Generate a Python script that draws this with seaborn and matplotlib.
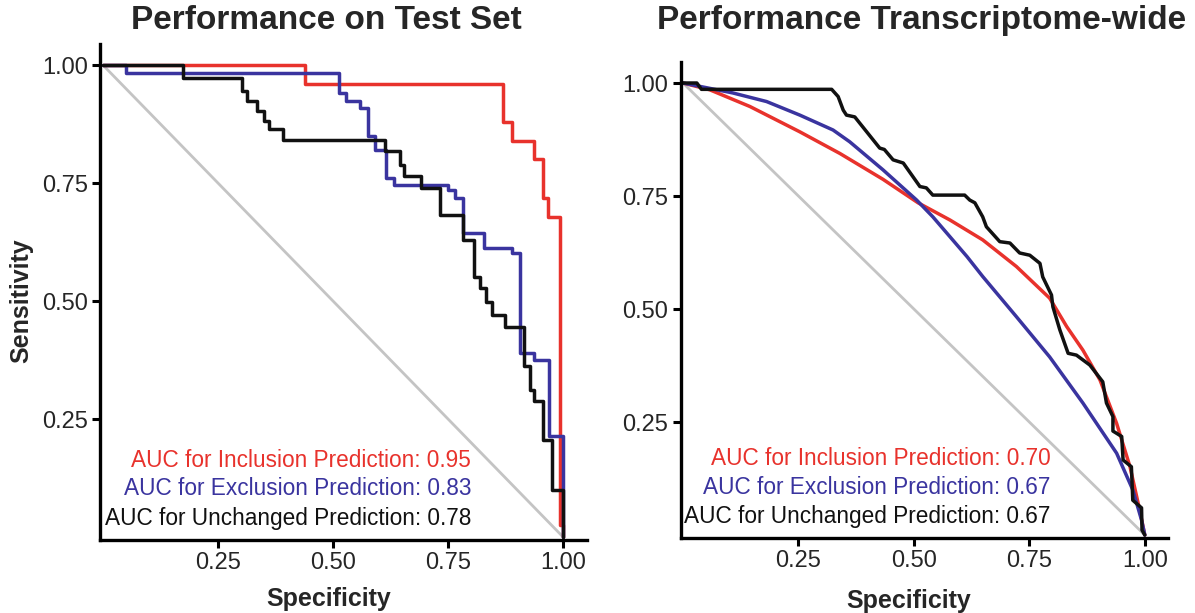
import matplotlib
matplotlib.use("Agg")
import matplotlib.pyplot as plt
import seaborn as sns

# colours
RED = "#e8322c"
BLUE = "#3a349f"
BLACK = "#111111"
GREY = "#c4c4c4"

# ---- Performance on Test Set (step ROC curves: spec where drop happens, new sens)
test_incl_spec = [0, 0.44, 0.87, 0.89, 0.936, 0.957, 0.967, 0.994, 1.0]
test_incl_sens = [1.0, 0.96, 0.879, 0.84, 0.80, 0.718, 0.678, 0.025, 0.0]

test_excl_spec = [0, 0.051, 0.512, 0.529, 0.558, 0.576, 0.591, 0.616, 0.633, 0.749,
                  0.766, 0.782, 0.828, 0.89, 0.907, 0.936, 0.97, 1.0]
test_excl_sens = [1.0, 0.984, 0.941, 0.924, 0.909, 0.849, 0.821, 0.761, 0.746, 0.736,
                  0.718, 0.644, 0.612, 0.601, 0.39, 0.376, 0.213, 0.0]

test_unch_spec = [0, 0.174, 0.302, 0.313, 0.334, 0.35, 0.36, 0.392, 0.612, 0.645, 0.654,
                  0.691, 0.733, 0.782, 0.807, 0.82, 0.832, 0.845, 0.874, 0.915, 0.928,
                  0.936, 0.957, 0.977, 1.0]
test_unch_sens = [1.0, 0.973, 0.945, 0.924, 0.902, 0.881, 0.865, 0.842, 0.817, 0.789, 0.764,
                  0.739, 0.683, 0.63, 0.552, 0.527, 0.499, 0.47, 0.445, 0.362, 0.312,
                  0.288, 0.206, 0.1, 0.0]

# ---- Performance Transcriptome-wide
tw_incl_spec = [0, 0.058, 0.145, 0.253, 0.340, 0.433, 0.509, 0.578, 0.649, 0.722, 0.794,
                0.831, 0.866, 0.903, 0.939, 0.968, 0.989, 1.0]
tw_incl_sens = [1.0, 0.985, 0.948, 0.892, 0.844, 0.787, 0.735, 0.697, 0.653, 0.594, 0.524,
                0.461, 0.409, 0.343, 0.247, 0.151, 0.055, 0.0]

tw_excl_spec = [0, 0.108, 0.181, 0.253, 0.325, 0.361, 0.433, 0.506, 0.541, 0.578, 0.615,
                0.649, 0.722, 0.794, 0.866, 0.939, 0.974, 0.993, 1.0]
tw_excl_sens = [1.0, 0.978, 0.959, 0.929, 0.896, 0.870, 0.808, 0.741, 0.704, 0.660, 0.616,
                0.572, 0.483, 0.394, 0.292, 0.181, 0.100, 0.033, 0.0]

tw_unch_spec = [0, 0.03, 0.04, 0.322, 0.336, 0.347, 0.354, 0.372, 0.426, 0.436, 0.455, 0.477,
                0.513, 0.527, 0.541, 0.610, 0.621, 0.632, 0.649, 0.657, 0.686, 0.708, 0.729,
                0.751, 0.773, 0.779, 0.798, 0.801, 0.816, 0.834, 0.852, 0.881, 0.909, 0.917,
                0.931, 0.931, 0.950, 0.953, 0.971, 0.974, 0.993, 0.994, 1.0]
tw_unch_sens = [1.0, 1.0, 0.986, 0.986, 0.970, 0.940, 0.929, 0.925, 0.856, 0.853, 0.830, 0.823,
                0.771, 0.768, 0.752, 0.752, 0.741, 0.735, 0.704, 0.682, 0.649, 0.646, 0.624,
                0.619, 0.601, 0.571, 0.531, 0.505, 0.454, 0.402, 0.398, 0.376, 0.339, 0.292,
                0.262, 0.230, 0.218, 0.166, 0.151, 0.077, 0.06, 0.011, 0.0]

titles = ["Performance on Test Set", "Performance Transcriptome-wide"]
auc_test = [0.95, 0.83, 0.78]
auc_tw = [0.70, 0.67, 0.67]
auc_names = ["Inclusion", "Exclusion", "Unchanged"]
ticks = [0.25, 0.50, 0.75, 1.00]
tick_labels = ["0.25", "0.50", "0.75", "1.00"]

sns.set_style("ticks")
plt.rcParams["font.family"] = ["Liberation Sans", "DejaVu Sans"]

fig = plt.figure(figsize=(11.95, 6.13), dpi=100)
ax1 = fig.add_axes([0.0839, 0.1194, 0.4073, 0.809])
ax2 = fig.add_axes([0.5696, 0.1228, 0.4077, 0.7757])

line_kw = dict(estimator=None, sort=False, linewidth=2.5, legend=False)


def style_axes(ax, xlim, ylim):
    ax.plot([0, 1], [1, 0], color=GREY, linewidth=2.0, zorder=1)
    ax.set_xlim(*xlim)
    ax.set_ylim(*ylim)
    ax.set_xticks(ticks)
    ax.set_xticklabels(tick_labels)
    ax.set_yticks(ticks)
    ax.set_yticklabels(tick_labels)
    ax.tick_params(direction="out", length=6, width=2.2, labelsize=17, pad=3, color="black")
    for s in ["top", "right"]:
        ax.spines[s].set_visible(False)
    for s in ["left", "bottom"]:
        ax.spines[s].set_linewidth(2.4)
        ax.spines[s].set_color("black")
    ax.grid(False)


# left panel
style_axes(ax1, (-0.006, 1.052), (-0.006, 1.045))
sns.lineplot(x=test_incl_spec, y=test_incl_sens, color=RED, drawstyle="steps-post", ax=ax1, **line_kw)
sns.lineplot(x=test_excl_spec, y=test_excl_sens, color=BLUE, drawstyle="steps-post", ax=ax1, **line_kw)
sns.lineplot(x=test_unch_spec, y=test_unch_sens, color=BLACK, drawstyle="steps-post", ax=ax1, **line_kw)

# right panel
style_axes(ax2, (-0.005, 1.05), (-0.006, 1.046))
sns.lineplot(x=tw_incl_spec, y=tw_incl_sens, color=RED, ax=ax2, **line_kw)
sns.lineplot(x=tw_excl_spec, y=tw_excl_sens, color=BLUE, ax=ax2, **line_kw)
sns.lineplot(x=tw_unch_spec, y=tw_unch_sens, color=BLACK, ax=ax2, **line_kw)

colors = [RED, BLUE, BLACK]
for ax, aucs, xr, ys in [(ax1, auc_test, 0.80, [0.149, 0.089, 0.026]),
                         (ax2, auc_tw, 0.796, [0.155, 0.090, 0.026])]:
    for name, auc, c, yy in zip(auc_names, aucs, colors, ys):
        ax.text(xr, yy, f"AUC for {name} Prediction: {auc:.2f}", color=c,
                ha="right", va="baseline", fontsize=16.3)
    ax.set_xlabel("Specificity", fontsize=18, fontweight="bold")

ax1.xaxis.set_label_coords(0.47, -0.095)
ax2.xaxis.set_label_coords(0.468, -0.108)
ax1.set_ylabel("Sensitivity", fontsize=18, fontweight="bold")
ax1.yaxis.set_label_coords(-0.137, 0.482)
ax2.set_ylabel("")

fig.text(0.273, 0.967, titles[0], ha="center", va="center", fontsize=24, fontweight="bold")
fig.text(0.7715, 0.967, titles[1], ha="center", va="center", fontsize=24, fontweight="bold")

fig.savefig("out.png", dpi=100, facecolor="white")
